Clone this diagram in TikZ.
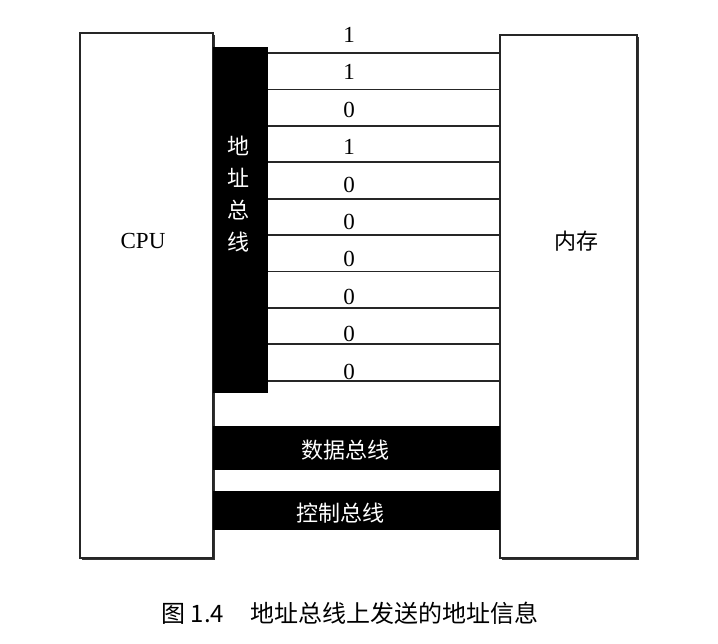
\documentclass[tikz,border=0pt]{standalone}
\usepackage{fontspec}
\setmainfont{Liberation Serif}
\newfontfamily\cjk{Noto Sans CJK SC}
\usetikzlibrary{positioning, shadows}

\begin{document}
\begin{tikzpicture}[
        x=1pt, y=-1pt,
        font=\fontsize{23}{27}\selectfont,
        % Styles
        unit/.style={
            draw=black!85, line width=1.6pt, fill=white, inner sep=0pt,
            drop shadow={shadow xshift=1.5pt, shadow yshift=-1.5pt, fill=black!80, opacity=1}
        },
        bus/.style={fill=black, inner sep=0pt},
        buslabel/.style={text=white, font=\cjk\fontsize{22}{32}\selectfont, align=center},
        wire/.style={draw=black!85, line width=1.8pt},
        bit/.style={inner sep=0pt}
    ]
    \useasboundingbox (0,0) rectangle (718,643);

    % --- Units ---
    \node[unit, minimum width=133pt, minimum height=525pt] (cpu) at (146.5,295.5) {};
    \node (cpulabel) at (143,241) {CPU};

    \node[unit, minimum width=137pt, minimum height=523pt] (mem) at (568.5,296.5) {};
    \node[font=\cjk\fontsize{22}{26}\selectfont] (memlabel) at (576,241) {内存};

    % --- Buses ---
    \node[bus, minimum width=55pt, minimum height=346pt] (abus) at (240.5,220) {};
    \node[buslabel] (abuslabel) at (238,194) {地\\址\\总\\线};

    \node[bus, minimum width=287pt, minimum height=44pt] (dbus) at (356.5,448) {};
    \node[buslabel] (dbuslabel) at (345,450) {数据总线};

    \node[bus, minimum width=287pt, minimum height=39pt] (cbus) at (356.5,510.5) {};
    \node[buslabel] (cbuslabel) at (340,513) {控制总线};

    % --- Address lines and bits ---
    \foreach \b [count=\i from 0] in {1,1,0,1,0,0,0,0,0,0} {
        \pgfmathsetmacro\ly{53+36.4*\i}
        \pgfmathsetmacro\by{35+37.4*\i}
        \draw[wire] (abus.east |- 0,\ly) -- (mem.west |- 0,\ly);
        \node[bit] (bit\i) at (349,\by) {\b};
    }

    % --- Caption ---
    \node[font=\cjk\fontsize{24}{28}\selectfont] (caption) at (350,613)
        {图 1.4\hspace{1.1em}地址总线上发送的地址信息};

\end{tikzpicture}
\end{document}
